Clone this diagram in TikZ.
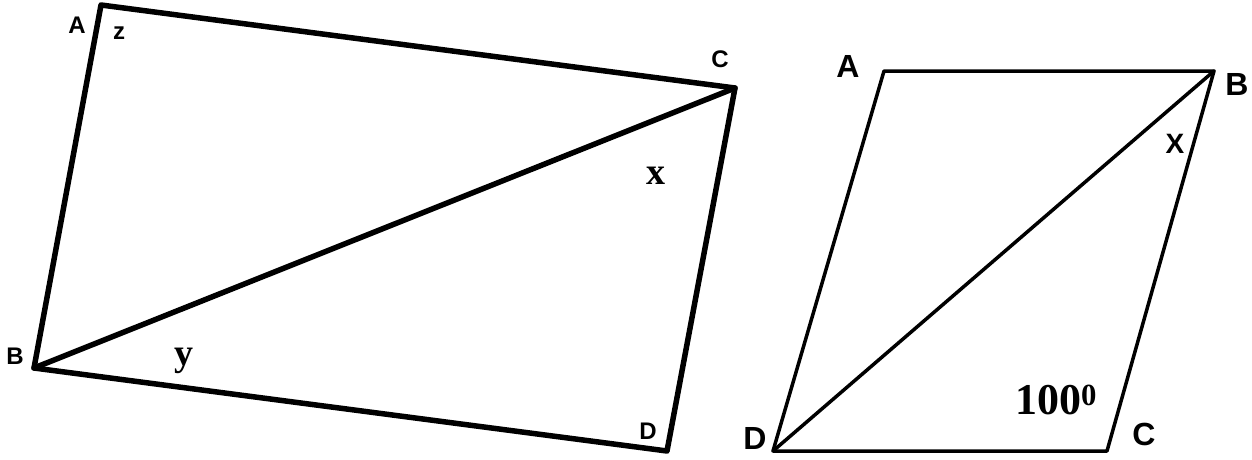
\documentclass[tikz,border=0pt]{standalone}
\usepackage{fontspec}
\setmainfont{Liberation Serif}
\setsansfont{Liberation Sans}
\usepackage{tikz}
\usetikzlibrary{calc}

\tikzset{
  vlabel/.style={font=\sffamily\bfseries\fontsize{24}{24}\selectfont,inner sep=0pt},
  biglabel/.style={font=\sffamily\bfseries\fontsize{32}{32}\selectfont,inner sep=0pt},
  anglabel/.style={font=\rmfamily\bfseries\fontsize{38}{38}\selectfont,inner sep=0pt}
}

\begin{document}
\begin{tikzpicture}[x=1pt,y=-1pt,line cap=round,line join=round]
  \useasboundingbox (0,0) rectangle (1252,460);

  % rectangle ABDC
  \coordinate (A1) at (101,5);
  \coordinate (C1) at (735,88);
  \coordinate (B1) at (34,368);
  \coordinate (D1) at (667,451);
  \draw[line width=5.5pt] (A1) -- (C1) -- (D1) -- (B1) -- cycle;
  \draw[line width=5.5pt] (B1) -- (C1);

  % labels
  \node[vlabel] (lA1) at (77,25) {A};
  \node[vlabel] (lz) at (119,33) {z};
  \node[vlabel] (lC1) at (720,59) {C};
  \node[vlabel] (lB1) at (15,356) {B};
  \node[vlabel] (lD1) at (648,431) {D};
  \node[anglabel] (lx1) at (656,176) {x};
  \node[anglabel] (ly) at (184,361) {y};

  % parallelogram ABCD
  \coordinate (A2) at (884,71);
  \coordinate (B2) at (1214,71);
  \coordinate (C2) at (1107,451);
  \coordinate (D2) at (773,451);
  \draw[line width=3.5pt] (A2) -- (B2) -- (C2) -- (D2) -- cycle;
  \draw[line width=3.5pt] (D2) -- (B2);

  % labels
  \node[biglabel] (lA2) at (848,66) {A};
  \node[biglabel] (lB2) at (1237,84) {B};
  \node[biglabel] (lC2) at (1144,434) {C};
  \node[biglabel] (lD2) at (755,438) {D};
  \node[font=\sffamily\bfseries\fontsize{28}{28}\selectfont,inner sep=0pt] (lx2) at (1175,144) {X};
  \node[font=\rmfamily\bfseries\fontsize{44}{44}\selectfont,inner sep=0pt] (lang) at (1056,400) {100$^{\mathbf{0}}$};
\end{tikzpicture}
\end{document}
